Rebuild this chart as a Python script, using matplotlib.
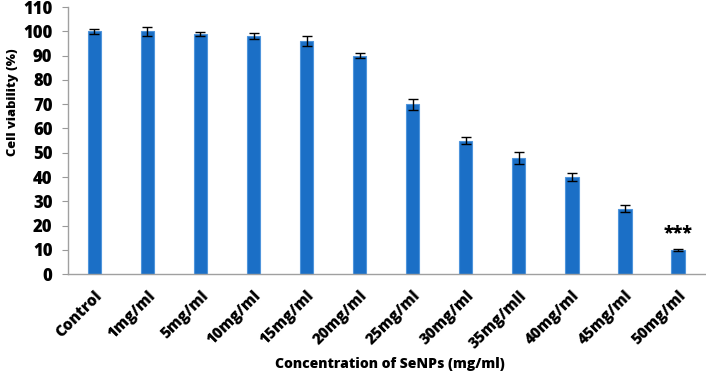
import numpy as np
import matplotlib
matplotlib.use("Agg")
import matplotlib.pyplot as plt

plt.rcParams['font.family'] = ['Open Sans', 'DejaVu Sans']
plt.rcParams['font.weight'] = 'bold'

categories = ['Control', '1mg/ml', '5mg/ml', '10mg/ml', '15mg/ml', '20mg/ml',
              '25mg/ml', '30mg/ml', '35mg/mll', '40mg/ml', '45mg/ml', '50mg/ml']
viability = [100, 100, 99, 98, 96, 90, 70, 55, 48, 40, 27, 10]
errors = [1.0, 2.0, 0.8, 1.2, 2.2, 1.0, 2.2, 1.5, 2.5, 1.5, 1.5, 0.5]
yticks = list(range(0, 111, 10))

fig = plt.figure(figsize=(7.06, 3.76), dpi=100)
ax = fig.add_axes([0.096, 0.271, 0.902, 0.71])

x = np.arange(len(categories))
ax.bar(x, viability, width=0.25, color='#1b6fc6', edgecolor='#4f95dc', linewidth=0.8,
       yerr=errors, capsize=3.5, error_kw=dict(ecolor='black', elinewidth=1, capthick=1))

# significance mark on the last bar
ax.text(x[-1], viability[-1] + errors[-1] + 3.0, '***', ha='center', va='bottom',
        fontsize=13, fontweight=800)

ax.set_xlim(-0.5, len(categories) - 0.5)
ax.set_ylim(0, 110)
ax.set_yticks(yticks)
ax.tick_params(axis='y', length=4, color='#999999', width=0.8, pad=7)
ax.tick_params(axis='x', length=0, pad=10)
ax.set_xticks(x)
ax.set_xticklabels(categories, rotation=45, ha='right', rotation_mode='anchor',
                   fontsize=11, fontweight=800)
for t in ax.get_yticklabels():
    t.set_fontsize(12)
    t.set_fontweight(800)

for s in ['top', 'right']:
    ax.spines[s].set_visible(False)
for s in ['left', 'bottom']:
    ax.spines[s].set_color('#a0a0a0')
    ax.spines[s].set_linewidth(1)

fig.text(0.0177, 0.727, 'Cell viability (%)', rotation=90, ha='center', va='center',
         fontsize=9.3, fontweight=800)
fig.text(0.552, 0.032, 'Concentration of SeNPs (mg/ml)', ha='center', va='center',
         fontsize=10, fontweight=800)

fig.savefig('out.png', dpi=100)
